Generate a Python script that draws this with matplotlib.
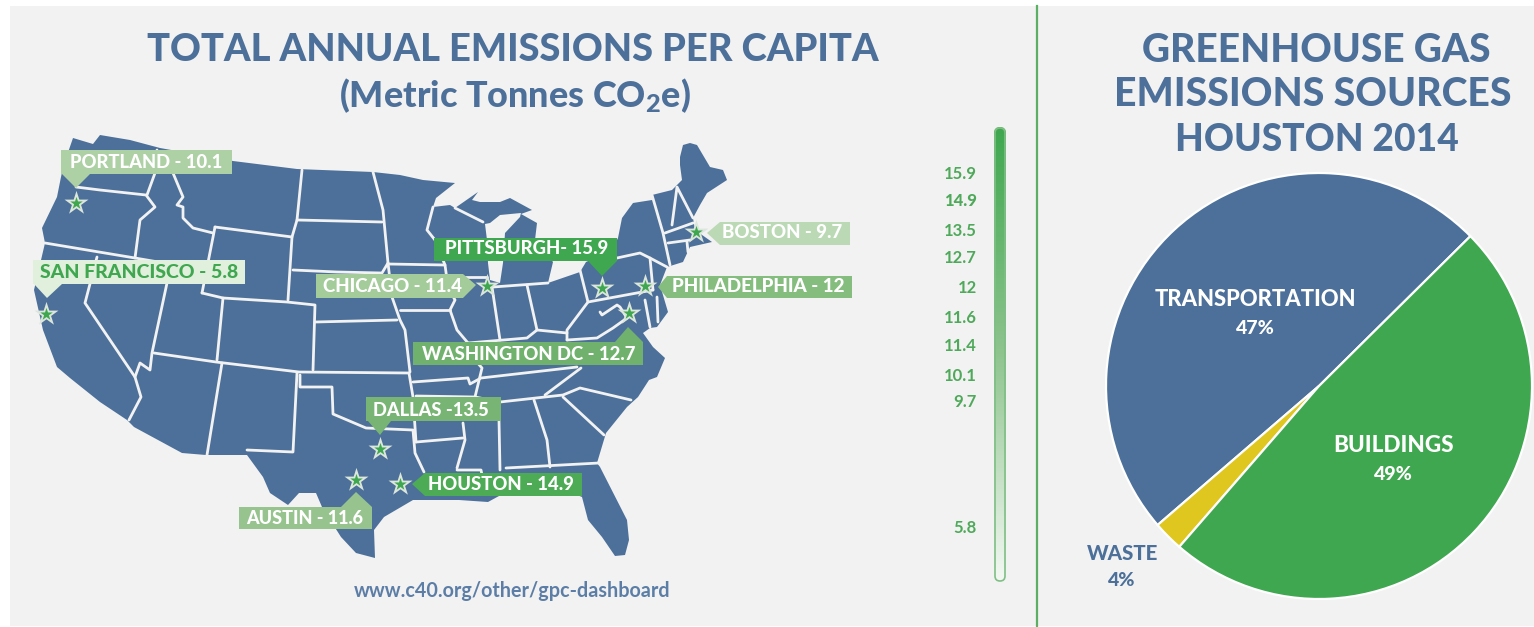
import matplotlib
matplotlib.use("Agg")
import matplotlib.pyplot as plt
import numpy as np
from matplotlib.colors import LinearSegmentedColormap
from matplotlib.patches import FancyBboxPatch, Polygon, Rectangle

plt.rcParams['font.family'] = ['Lato', 'DejaVu Sans']
plt.rcParams['mathtext.default'] = 'regular'

# Data
cities = ['PORTLAND', 'SAN FRANCISCO', 'CHICAGO', 'PITTSBURGH', 'PHILADELPHIA',
          'BOSTON', 'WASHINGTON DC', 'DALLAS', 'HOUSTON', 'AUSTIN']
emissions = ['10.1', '5.8', '11.4', '15.9', '12', '9.7', '12.7', '13.5', '14.9', '11.6']
separators = [' - ', ' - ', ' - ', '- ', ' - ', ' - ', ' - ', ' -', ' - ', ' - ']

scale_labels = ['15.9', '14.9', '13.5', '12.7', '12', '11.6', '11.4', '10.1', '9.7', '5.8']
scale_rows = [174, 201, 231, 258, 288, 318, 346, 376, 402, 528]

sources = ['TRANSPORTATION', 'WASTE', 'BUILDINGS']
source_labels = ['47%', '4%', '49%']
# angle each slice really takes up in the picture, in percent of the circle
source_drawn = [48.9, 2.3, 48.8]

BLUE = '#4c7099'
GREEN = '#3fa74f'
YELLOW = '#dfc71f'
BG = '#f2f2f2'

# Map drawing, in pixels of the 1534x627 picture
us_outline = [(73, 138), (93, 144), (100, 135), (130, 140), (160, 148), (233, 161), (297, 169),
              (373, 172), (400, 175), (423, 180), (455, 183), (436, 198), (433, 207), (450, 205),
              (455, 208), (478, 192), (472, 200), (480, 202), (500, 202), (510, 198), (532, 210),
              (521, 214), (537, 223), (535, 240), (553, 262), (548, 283), (580, 272), (586, 262),
              (612, 250), (618, 238), (622, 218), (633, 203), (652, 200), (652, 195), (672, 190),
              (682, 180), (680, 165), (680, 157), (683, 145), (690, 143), (697, 145), (710, 167),
              (723, 170), (727, 180), (707, 193), (700, 205), (693, 218), (695, 230), (712, 242),
              (690, 247), (683, 262), (667, 267), (660, 285), (668, 312), (657, 327), (650, 328),
              (643, 333), (653, 347), (665, 358), (657, 377), (649, 380), (638, 397), (627, 407),
              (606, 433), (597, 463), (600, 467), (627, 520), (629, 540), (625, 555), (615, 556),
              (602, 537), (588, 520), (582, 497), (560, 488), (530, 490), (510, 490), (488, 502),
              (459, 500), (413, 500), (384, 517), (374, 530), (375, 558), (356, 553), (341, 537),
              (322, 507), (316, 493), (299, 493), (288, 505), (270, 493), (263, 477), (247, 455),
              (206, 455), (182, 453), (134, 427), (127, 420), (100, 402), (70, 378), (57, 367),
              (43, 330), (34, 290), (45, 243), (42, 228), (57, 197), (63, 167)]
lake_michigan = [(485, 224), (490, 223), (500, 215), (521, 213), (520, 217), (505, 233),
                 (503, 263), (500, 283), (490, 280), (488, 263), (487, 240)]
state_lines = [
    [(76, 187), (100, 190), (146, 195), (155, 207), (140, 220), (135, 258)],
    [(157, 150), (155, 173), (147, 195)],
    [(173, 155), (173, 173), (183, 197), (177, 205), (183, 207), (183, 218), (193, 228), (213, 233)],
    [(215, 227), (202, 293)],
    [(215, 227), (292, 237)],
    [(302, 170), (297, 220), (292, 237), (288, 300)],
    [(297, 220), (382, 222)],
    [(373, 172), (383, 210), (388, 263), (392, 297), (400, 320), (405, 330), (410, 372)],
    [(293, 270), (337, 272), (382, 273), (388, 263)],
    [(388, 264), (445, 265), (448, 287), (455, 300), (450, 310), (457, 330), (468, 343), (475, 360), (482, 368), (475, 397)],
    [(202, 293), (223, 298), (287, 302), (315, 305), (313, 370)],
    [(315, 322), (397, 320)],
    [(167, 283), (152, 353), (150, 370), (140, 363), (135, 377), (141, 397), (129, 420)],
    [(223, 298), (217, 360)],
    [(45, 243), (135, 258), (205, 270)],
    [(97, 257), (85, 303), (135, 377)],
    [(154, 353), (216, 362), (299, 372), (409, 373)],
    [(222, 363), (207, 455)],
    [(297, 373), (293, 452), (247, 450)],
    [(300, 375), (300, 387), (332, 387), (333, 414), (366, 428), (413, 430), (415, 453), (424, 472)],
    [(409, 373), (413, 397), (416, 442)],
    [(413, 382), (468, 378), (470, 384), (481, 378), (577, 367)],
    [(500, 402), (563, 395), (580, 388), (631, 400)],
    [(416, 396), (475, 397), (500, 402)],
    [(563, 397), (604, 435)],
    [(545, 395), (581, 368)],
    [(499, 420), (500, 470)],
    [(534, 400), (547, 440), (550, 467)],
    [(506, 468), (599, 463)],
    [(457, 470), (481, 470), (482, 475)],
    [(457, 468), (465, 440), (463, 423)],
    [(416, 442), (463, 438)],
    [(433, 207), (427, 230), (435, 240), (445, 265)],
    [(455, 208), (483, 222)],
    [(492, 287), (500, 340)],
    [(527, 285), (537, 330)],
    [(493, 287), (548, 283)],
    [(580, 270), (588, 302), (653, 290)],
    [(617, 258), (640, 253), (650, 258), (653, 290)],
    [(650, 258), (667, 267)],
    [(652, 195), (663, 233), (670, 265)],
    [(672, 225), (677, 187), (693, 218)],
    [(665, 233), (693, 223)],
    [(668, 243), (690, 240)],
    [(687, 242), (688, 252)],
    [(588, 302), (567, 330), (567, 340)],
    [(600, 312), (602, 315), (617, 305), (620, 307), (627, 318)],
    [(468, 343), (527, 338), (537, 330), (567, 333)],
    [(567, 340), (597, 338), (613, 328), (627, 318)],
    [(645, 300), (650, 327)],
    [(657, 297), (658, 322)],
    [(400, 310), (450, 310)],
    [(448, 277), (487, 277)],
]

# (left, right, top, bottom) of each label box, its pointer, its colour
label_boxes = [(61, 232, 150, 174), (33, 245, 260, 284), (316, 463, 274, 298), (434, 617, 238, 261),
               (667, 852, 276, 298), (720, 850, 222, 245), (413, 643, 342, 365), (366, 501, 397, 421),
               (425, 582, 473, 496), (239, 372, 507, 529)]
label_tips = [[(62, 174), (76, 188), (90, 174)], [(34, 284), (47, 298), (62, 284)],
              [(463, 274), (476, 285), (463, 298)], [(588, 261), (602, 276), (617, 261)],
              [(667, 276), (658, 287), (667, 298)], [(720, 222), (707, 233), (720, 245)],
              [(615, 342), (628, 327), (643, 342)], [(368, 421), (380, 435), (391, 421)],
              [(425, 473), (412, 484), (425, 496)], [(341, 507), (356, 492), (372, 507)]]
label_colors = ['#aed0a5', '#e1efdd', '#a4cb9a', GREEN, '#85bd7f', '#bcd9b5', '#70b26d',
                '#78b575', '#4eab55', '#97c48e']
text_spans = [(70, 222, 162), (40, 238, 273), (323, 462, 286), (445, 608, 249), (672, 845, 287),
              (722, 842, 233), (422, 635, 355), (373, 489, 411), (428, 574, 485), (246, 363, 519)]
star_spots = [(76, 203), (46, 314), (487, 286), (602, 288), (645, 286), (696, 232), (629, 313),
              (380, 449), (400, 484), (356, 480)]

fig = plt.figure(figsize=(15.34, 6.27), dpi=100, facecolor='white')
ax = fig.add_axes([0, 0, 1, 1])
ax.set_xlim(0, 1534)
ax.set_ylim(627, 0)
ax.axis('off')
renderer = fig.canvas.get_renderer()


def fit_text(axes, x0, x1, y, s, color, weight='black', size=12):
    # the source font is wider, so size each text from the width it takes up
    t = axes.text((x0 + x1) / 2, y, s, color=color, ha='center', va='center', fontsize=size,
                  fontweight=weight, zorder=6)
    w = t.get_window_extent(renderer).width
    t.set_fontsize(size * (x1 - x0) / w)
    return t


# Panel and divider
ax.add_patch(Rectangle((10, 6), 1524, 620, fc=BG, ec='none', zorder=0))
ax.plot([1037, 1037], [6, 627], color='#5cb063', lw=1.6, zorder=1)

# Titles
fit_text(ax, 148, 878, 50, 'TOTAL ANNUAL EMISSIONS PER CAPITA', BLUE)
fit_text(ax, 338, 692, 96, '(Metric Tonnes CO$_2$e)', BLUE)
fit_text(ax, 1143, 1490, 50, 'GREENHOUSE GAS', BLUE)
fit_text(ax, 1115, 1510, 95, 'EMISSIONS SOURCES', BLUE)
fit_text(ax, 1176, 1458, 140, 'HOUSTON 2014', BLUE)
fit_text(ax, 355, 670, 591, 'www.c40.org/other/gpc-dashboard', '#5c7ea6', weight='bold')

# Map
ax.add_patch(Polygon(us_outline, closed=True, fc=BLUE, ec='none', zorder=2))
ax.add_patch(Polygon(lake_michigan, closed=True, fc=BG, ec='none', zorder=3))
for line in state_lines:
    xs, ys = zip(*line)
    ax.plot(xs, ys, color=BG, lw=2.0, solid_joinstyle='round', solid_capstyle='round', zorder=3)

# City labels and stars
for i, city in enumerate(cities):
    left, right, top, bottom = label_boxes[i]
    ax.add_patch(Rectangle((left, top), right - left, bottom - top, fc=label_colors[i], ec='none', zorder=4))
    ax.add_patch(Polygon(label_tips[i], closed=True, fc=label_colors[i], ec='none', zorder=4))
    x0, x1, y = text_spans[i]
    txt_color = GREEN if city == 'SAN FRANCISCO' else 'white'
    fit_text(ax, x0, x1, y, city + separators[i] + emissions[i], txt_color)
    sx, sy = star_spots[i]
    ax.scatter([sx], [sy], marker='*', s=330, color='#dce6dc', linewidths=0, zorder=5)
    ax.scatter([sx], [sy], marker='*', s=90, color=GREEN, linewidths=0, zorder=6)

# Colour scale
cmap = LinearSegmentedColormap.from_list('scale', [GREEN, '#8fc48f', '#f4f8f4'])
grad = np.linspace(0, 1, 256).reshape(-1, 1)
bar_img = ax.imshow(grad, cmap=cmap, extent=(994, 1006, 582, 127), aspect='auto', zorder=3)
bar_box = FancyBboxPatch((994, 127), 12, 455, boxstyle='round,pad=0,rounding_size=6',
                         fc='none', ec='none')
ax.add_patch(bar_box)
bar_img.set_clip_path(bar_box)
ax.add_patch(FancyBboxPatch((995, 128), 10, 453, boxstyle='round,pad=0,rounding_size=5', fc='none',
                            ec='#7fbf85', lw=1.2, zorder=4))
ax.set_xlim(0, 1534)
ax.set_ylim(627, 0)
for lab, row in zip(scale_labels, scale_rows):
    ax.text(977, row, lab, color='#4fa95a', ha='right', va='center', fontsize=12,
            fontweight='black' if lab == '14.9' else 'bold', zorder=6)

# Pie
pie_ax = fig.add_axes([(1319 - 213) / 1534, 1 - (386 + 213) / 627, 426 / 1534, 426 / 627])
pie_ax.pie(source_drawn, colors=[BLUE, YELLOW, GREEN], startangle=44.7, radius=1, frame=False,
           wedgeprops={'edgecolor': 'white', 'linewidth': 1.6})
pie_ax.set_xlim(-1, 1)
pie_ax.set_ylim(-1, 1)

# Pie labels on their own layer above the pie
label_ax = fig.add_axes([0, 0, 1, 1], zorder=4)
label_ax.set_xlim(0, 1534)
label_ax.set_ylim(627, 0)
label_ax.axis('off')
pie_spots = [(1155, 1355, 300, 329, 1255), (1087, 1158, 554, 580, 1122), (1334, 1454, 445, 474, 1393)]
for src, pct, spot in zip(sources, source_labels, pie_spots):
    x0, x1, y0, y1, xc = spot
    col = BLUE if src == 'WASTE' else 'white'
    fit_text(label_ax, x0, x1, y0, src, col)
    label_ax.text(xc, y1, pct, color=col, ha='center', va='center', fontsize=14, fontweight='black')

plt.savefig('out.png', dpi=100)
plt.close()
